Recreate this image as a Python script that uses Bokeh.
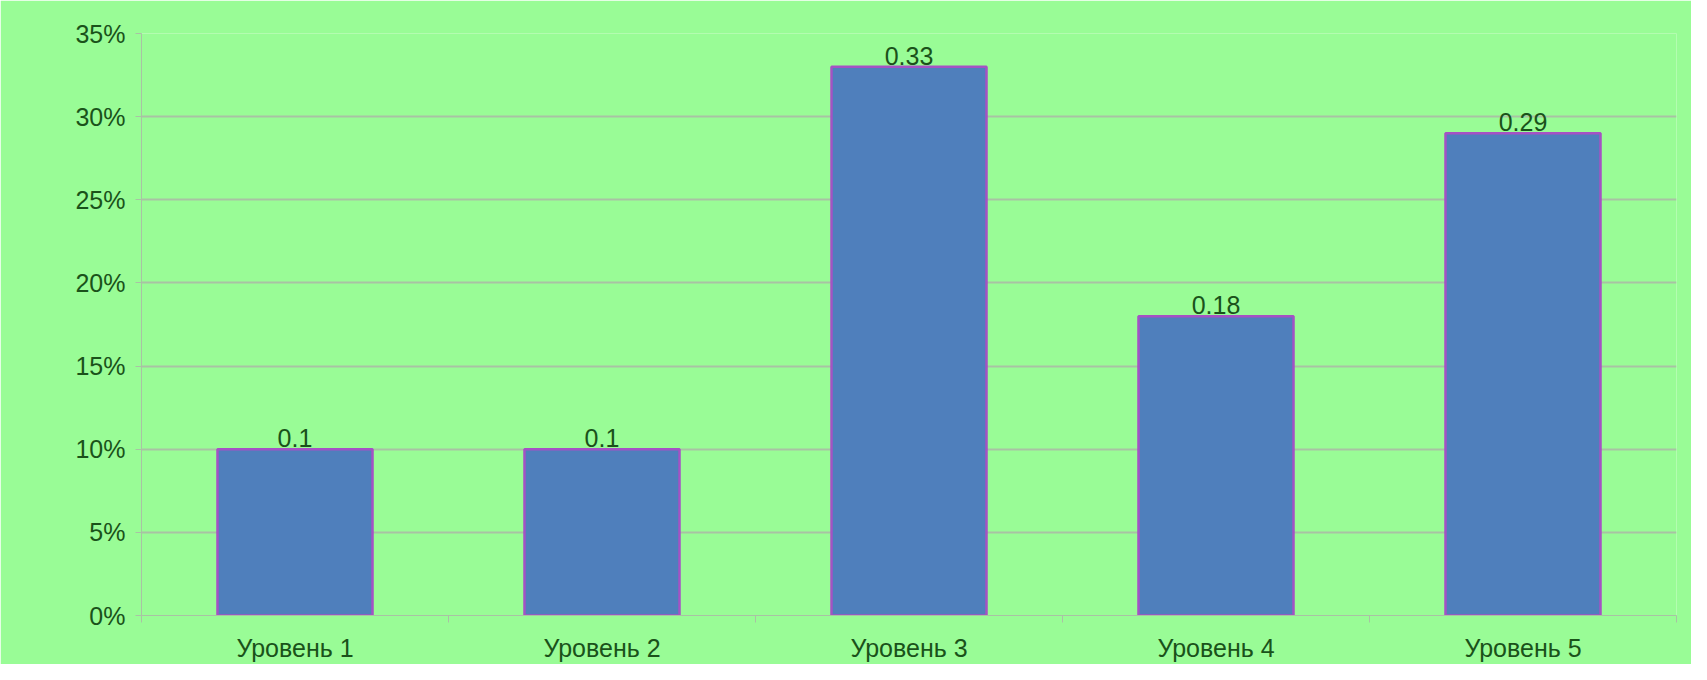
from bokeh.plotting import figure
from bokeh.models import ColumnDataSource, Range1d, FixedTicker, NumeralTickFormatter, LabelSet
from bokeh.core.properties import value
from bokeh.embed import file_html
from bokeh.resources import INLINE

categories = ["Уровень 1", "Уровень 2", "Уровень 3", "Уровень 4", "Уровень 5"]
values = [0.1, 0.1, 0.33, 0.18, 0.29]
value_labels = ["0.1", "0.1", "0.33", "0.18", "0.29"]
y_ticks = [0, 0.05, 0.10, 0.15, 0.20, 0.25, 0.30, 0.35]

xs = [i + 0.5 for i in range(len(categories))]
src = ColumnDataSource(dict(x=xs, top=values, lbl=value_labels))

BG = "#99fc96"
TXT = "#1a521a"
GRID = "#a9c2a4"
FONT = "Liberation Sans"
FS = "25px"

p = figure(width=1691, height=664, output_backend="svg", toolbar_location=None,
           x_range=Range1d(0, len(categories)), y_range=Range1d(0, 0.35),
           background_fill_color=BG, border_fill_color=BG,
           min_border_left=141, min_border_right=15, min_border_top=33, min_border_bottom=47)
p.outline_line_color = None

p.vbar(x="x", top="top", width=0.505, bottom=0, source=src,
       fill_color="#4f7fbc", line_color="#a552c4", line_width=2.5)

labels = LabelSet(x="x", y="top", text="lbl", source=src, text_align="center",
                  text_baseline="bottom", y_offset=2, text_font=value(FONT),
                  text_font_size=value(FS), text_color=value(TXT))
p.add_layout(labels)

# x axis
p.xaxis.ticker = FixedTicker(ticks=xs, minor_ticks=list(range(len(categories) + 1)))
p.xaxis.major_label_overrides = {x: c for x, c in zip(xs, categories)}
p.xaxis.major_tick_line_color = None
p.xaxis.minor_tick_line_color = GRID
p.xaxis.minor_tick_out = 7
p.xaxis.minor_tick_in = 0
p.xaxis.axis_line_color = GRID
p.xaxis.major_label_text_font = FONT
p.xaxis.major_label_text_font_size = FS
p.xaxis.major_label_text_color = TXT
p.xaxis.major_label_standoff = 11

# y axis
p.yaxis.ticker = FixedTicker(ticks=y_ticks)
p.yaxis.formatter = NumeralTickFormatter(format="0%")
p.yaxis.axis_line_color = GRID
p.yaxis.major_tick_line_color = GRID
p.yaxis.major_tick_out = 6
p.yaxis.major_tick_in = 0
p.yaxis.minor_tick_line_color = None
p.yaxis.major_label_text_font = FONT
p.yaxis.major_label_text_font_size = FS
p.yaxis.major_label_text_color = TXT
p.yaxis.major_label_standoff = 10

p.xgrid.grid_line_color = None
p.ygrid.grid_line_color = GRID
p.ygrid.grid_line_width = 2

open("out.html", "w").write(file_html(p, INLINE))
